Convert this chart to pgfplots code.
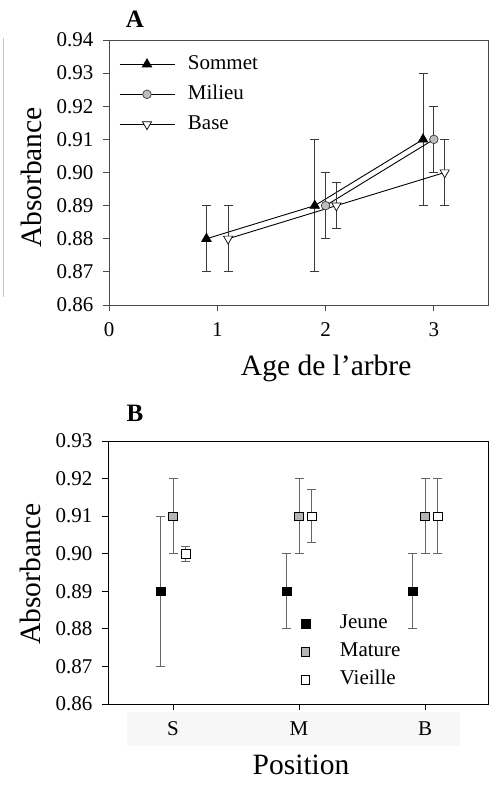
\documentclass[border=0pt]{standalone}
\usepackage{fontspec}
\setmainfont{Liberation Serif}
\usepackage{pgfplots}
\pgfplotsset{compat=1.18}
\definecolor{circgray}{HTML}{BDBDBD}
\definecolor{sqgray}{HTML}{B5B5B5}
\definecolor{barA}{HTML}{3A3A3A}
\definecolor{barB}{HTML}{666666}
\definecolor{frameA}{HTML}{4A4A4A}

\pgfplotsset{
  panel/.style={
    scale only axis,
    anchor=south west,
    tick align=outside,
    xtick pos=bottom, ytick pos=left,
    major tick length=6pt,
    every tick label/.append style={font=\fontsize{21}{25}\selectfont},
    xticklabel style={yshift=-8pt},
    label style={font=\fontsize{29.5}{34}\selectfont},
    /pgf/number format/assume math mode=true,
    yticklabel style={/pgf/number format/fixed, /pgf/number format/fixed zerofill,
      /pgf/number format/precision=2, xshift=-6pt},
    legend cell align=left,
  },
  errA/.style={error bars/.cd, y dir=both, y explicit,
    error bar style={barA, line width=0.9pt},
    error mark options={rotate=90, mark size=4.5pt, barA, line width=0.9pt}},
  errB/.style={error bars/.cd, y dir=both, y explicit,
    error bar style={barB, line width=0.9pt},
    error mark options={rotate=90, mark size=4.5pt, barB, line width=0.9pt}},
}

\begin{document}
\begin{tikzpicture}
\path (0,0) rectangle (499pt,-794pt);
% scan artefacts
\fill[gray!6] (127pt,-712pt) rectangle (460pt,-746pt);
\draw[gray!45, line width=1pt] (3pt,-38pt) -- (3pt,-297pt);

% ---------- A ----------
\begin{axis}[panel,
  at={(109pt,-305pt)}, width=379pt, height=265pt,
  axis line style={frameA, line width=0.9pt},
  tick style={frameA, line width=0.9pt},
  xmin=0, xmax=3.5, ymin=0.86, ymax=0.94,
  xtick={0,1,2,3},
  ytick={0.86,0.87,0.88,0.89,0.90,0.91,0.92,0.93,0.94},
  xlabel={Age de l’arbre},
  ylabel={Absorbance},
  xlabel style={at={(axis description cs:0.573,-0.238)}, anchor=center},
  ylabel style={at={(axis description cs:-0.205,0.481)}, anchor=center},
  legend style={at={(axis description cs:0.026,0.943)}, anchor=north west,
    draw=none, fill=none, inner sep=0pt, column sep=13pt, row sep=12pt,
    font=\fontsize{21}{25}\selectfont,
    nodes={inner sep=0pt, text height=14pt, text depth=4pt}},
  legend image code/.code={
    \draw[#1, mark repeat=2, mark phase=2] plot coordinates {(0pt,0pt) (27.5pt,0pt) (55pt,0pt)};},
]
\addplot[black, line width=0.9pt, mark=triangle*, mark size=5.3pt,
  mark options={fill=black, solid}, errA]
  coordinates {
  (0.9,0.880) +- (0,0.010)
  (1.9,0.890) +- (0,0.020)
  (2.9,0.910) +- (0,0.020)
  };
\addlegendentry{Sommet}
\addplot[black, line width=0.9pt, mark=*, mark size=4.3pt,
  mark options={fill=circgray, draw=barA, line width=0.7pt}, errA]
  coordinates {
  (2.0,0.890) +- (0,0.010)
  (3.0,0.910) +- (0,0.010)
  };
\addlegendentry{Milieu}
\addplot[black, line width=0.9pt, mark=triangle*, mark size=5.3pt,
  mark options={fill=white, draw=black, rotate=180, line width=0.7pt}, errA]
  coordinates {
  (1.1,0.880) +- (0,0.010)
  (2.1,0.890) +- (0,0.007)
  (3.1,0.900) +- (0,0.010)
  };
\addlegendentry{Base}
\end{axis}

\node[font=\bfseries\fontsize{25}{29}\selectfont] at (135pt,-19pt) {A};

% ---------- B ----------
\begin{axis}[panel,
  at={(108pt,-704pt)}, width=380pt, height=263pt,
  axis line style={black, line width=0.9pt},
  tick style={black, line width=0.9pt},
  xmin=0.484, xmax=3.5, ymin=0.86, ymax=0.93,
  xtick={1,2,3}, xticklabels={S,M,B},
  ytick={0.86,0.87,0.88,0.89,0.90,0.91,0.92,0.93},
  xlabel={Position},
  ylabel={Absorbance},
  xlabel style={at={(axis description cs:0.508,-0.232)}, anchor=center},
  ylabel style={at={(axis description cs:-0.203,0.494)}, anchor=center},
  legend style={at={(axis description cs:0.508,0.34)}, anchor=north west,
    draw=none, fill=none, inner sep=0pt, column sep=30pt, row sep=10pt,
    font=\fontsize{21}{25}\selectfont,
    nodes={inner sep=0pt, text height=14pt, text depth=4pt}},
  legend image code/.code={\draw[#1] plot coordinates {(0pt,0pt)};},
]
\addplot[only marks, mark=square*, mark size=4.3pt,
  mark options={fill=black, draw=black}, errB]
  coordinates {
  (0.9,0.890) +- (0,0.020)
  (1.9,0.890) +- (0,0.010)
  (2.9,0.890) +- (0,0.010)
  };
\addlegendentry{Jeune}
\addplot[only marks, mark=square*, mark size=4.3pt,
  mark options={fill=sqgray, draw=black, line width=0.7pt}, errB]
  coordinates {
  (1.0,0.910) +- (0,0.010)
  (2.0,0.910) +- (0,0.010)
  (3.0,0.910) +- (0,0.010)
  };
\addlegendentry{Mature}
\addplot[only marks, mark=square*, mark size=4.3pt,
  mark options={fill=white, draw=black, line width=0.7pt}, errB]
  coordinates {
  (1.1,0.900) +- (0,0.002)
  (2.1,0.910) +- (0,0.007)
  (3.1,0.910) +- (0,0.010)
  };
\addlegendentry{Vieille}
\end{axis}

\node[font=\bfseries\fontsize{25}{29}\selectfont] at (135pt,-413pt) {B};
\end{tikzpicture}
\end{document}
